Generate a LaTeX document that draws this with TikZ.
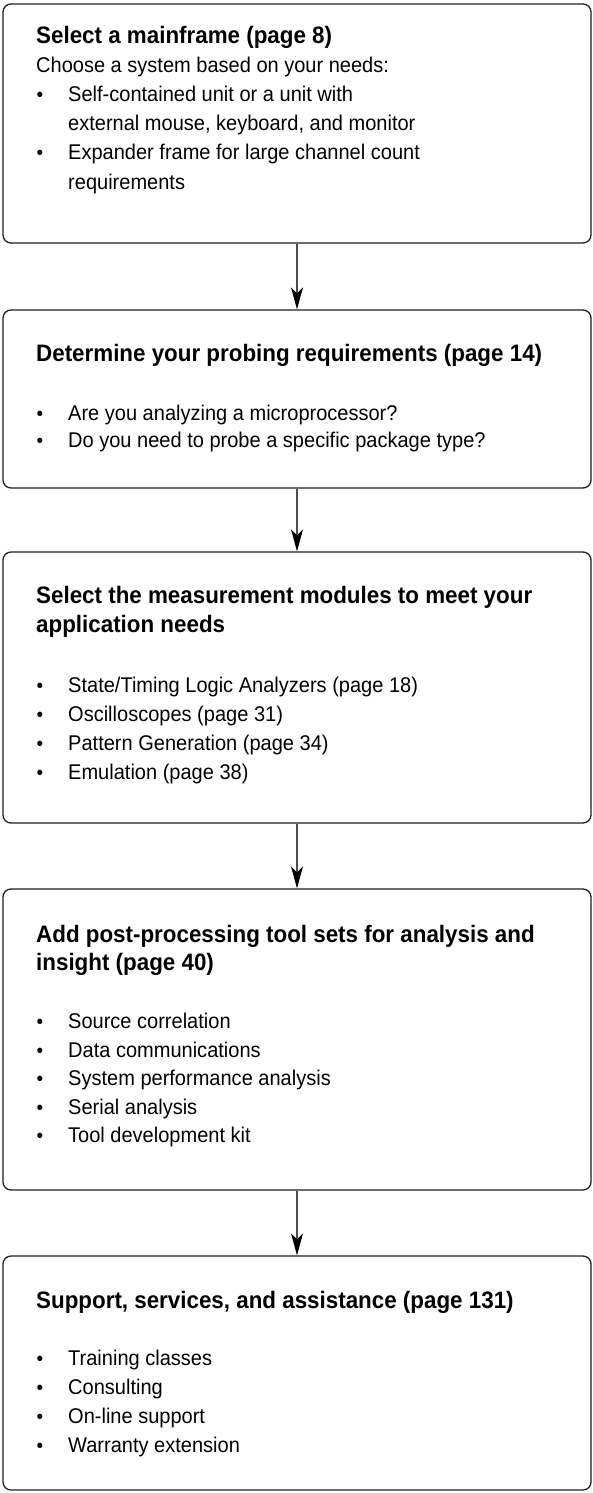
\documentclass[tikz,border=0pt]{standalone}
\usepackage{fontspec}
\setmainfont[FakeStretch=0.94]{Liberation Sans}
\usetikzlibrary{arrows.meta}
\newcommand\bulletline[3]{%
  \node[bul] (#1b) at (40,#2) {•};
  \node[txt] (#1) at (68,#2) {#3};}
\begin{document}
\begin{tikzpicture}[x=1pt,y=-1pt,
  box/.style={draw=black!88, line width=1.3pt, rounded corners=8pt, inner sep=0pt, minimum width=588pt},
  ttl/.style={anchor=base west, inner sep=0pt, font=\fontsize{23.8}{28}\selectfont\bfseries},
  txt/.style={anchor=base west, inner sep=0pt, font=\fontsize{21.3}{25}\selectfont},
  bul/.style={anchor=base, inner sep=0pt, font=\fontsize{20}{24}\selectfont},
  conn/.style={draw=black!70, line width=1.3pt, -{Stealth[black,length=22pt,width=12pt,inset=6pt]}}
]
\useasboundingbox (0,0) rectangle (593,1493);
% boxes
\node[box, minimum height=239pt] (b1) at (297,123.5) {};
\node[box, minimum height=178pt] (b2) at (297,399) {};
\node[box, minimum height=271pt] (b3) at (297,687.5) {};
\node[box, minimum height=301pt] (b4) at (297,1039.5) {};
\node[box, minimum height=234pt] (b5) at (297,1373) {};
% connectors
\draw[conn] (b1.south) -- (b2.north);
\draw[conn] (b2.south) -- (b3.north);
\draw[conn] (b3.south) -- (b4.north);
\draw[conn] (b4.south) -- (b5.north);
% box 1
\node[ttl] (t1) at (36,44) {Select a mainframe (page 8)};
\node[txt] (t1s) at (36,73) {Choose a system based on your needs:};
\bulletline{t1a}{102}{Self-contained unit or a unit with}
\node[txt] (t1a2) at (68,131) {external mouse, keyboard, and monitor};
\bulletline{t1b}{160}{Expander frame for large channel count}
\node[txt] (t1b2) at (68,189) {requirements};
% box 2
\node[ttl] (t2) at (36,361) {Determine your probing requirements (page 14)};
\bulletline{t2a}{420}{Are you analyzing a microprocessor?}
\bulletline{t2b}{447}{Do you need to probe a specific package type?}
% box 3
\node[ttl] (t3) at (36,603) {Select the measurement modules to meet your};
\node[ttl] (t3l) at (36,632) {application needs};
\bulletline{t3a}{692}{State/Timing Logic Analyzers (page 18)}
\bulletline{t3b}{721}{Oscilloscopes (page 31)}
\bulletline{t3c}{750}{Pattern Generation (page 34)}
\bulletline{t3d}{779}{Emulation (page 38)}
% box 4
\node[ttl] (t4) at (36,942) {Add post-processing tool sets for analysis and};
\node[ttl] (t4l) at (36,970) {insight (page 40)};
\bulletline{t4a}{1028}{Source correlation}
\bulletline{t4b}{1057}{Data communications}
\bulletline{t4c}{1085}{System performance analysis}
\bulletline{t4d}{1114}{Serial analysis}
\bulletline{t4e}{1142}{Tool development kit}
% box 5
\node[ttl] (t5) at (36,1308) {Support, services, and assistance (page 131)};
\bulletline{t5a}{1365}{Training classes}
\bulletline{t5b}{1394}{Consulting}
\bulletline{t5c}{1423}{On-line support}
\bulletline{t5d}{1452}{Warranty extension}
\end{tikzpicture}
\end{document}
